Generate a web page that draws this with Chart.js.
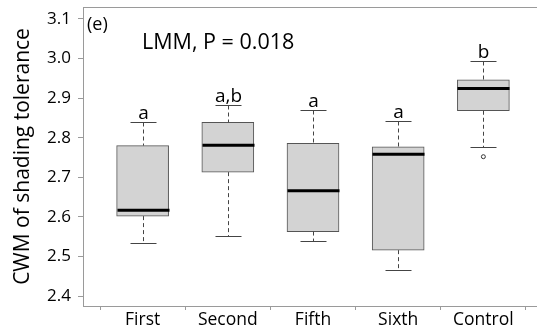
<!DOCTYPE html>
<html>
<head>
<meta charset="utf-8">
<script src="https://cdn.jsdelivr.net/npm/chart.js@4/dist/chart.umd.min.js"></script>
<style>
html, body { margin: 0; padding: 0; background: #fff; overflow: hidden; }
canvas { display: block; }
</style>
</head>
<body>
<canvas id="chart" width="548" height="328"></canvas>
<script>
// box plot data
const groups = ['First', 'Second', 'Fifth', 'Sixth', 'Control'];
const whiskerLo = [2.533, 2.551, 2.538, 2.466, 2.777];
const q1 = [2.602, 2.713, 2.563, 2.516, 2.868];
const medians = [2.617, 2.781, 2.666, 2.758, 2.924];
const q3 = [2.780, 2.839, 2.786, 2.777, 2.946];
const whiskerHi = [2.840, 2.883, 2.870, 2.841, 2.994];
const outlierGroup = [5];
const outlierValue = [2.752];
const letters = ['a', 'a,b', 'a', 'a', 'b'];
const yTicks = [2.4, 2.5, 2.6, 2.7, 2.8, 2.9, 3.0, 3.1];

const FONT = '"Open Sans", "Noto Sans", sans-serif';
const FRAME = '#9a9a9a';

const boxExtras = {
    id: 'boxExtras',
    afterDatasetsDraw(chart) {
        const ctx = chart.ctx;
        const xs = chart.scales.x, ys = chart.scales.y;
        const half = 26, cap = 13;
        ctx.save();
        groups.forEach((g, i) => {
            const cx = Math.round(xs.getPixelForValue(i + 1)) + 0.5;
            const yHi = Math.round(ys.getPixelForValue(whiskerHi[i])) + 0.5;
            const yQ3 = ys.getPixelForValue(q3[i]);
            const yQ1 = ys.getPixelForValue(q1[i]);
            const yLo = Math.round(ys.getPixelForValue(whiskerLo[i])) + 0.5;
            // dashed whiskers
            ctx.strokeStyle = '#444';
            ctx.lineWidth = 1;
            ctx.setLineDash([4, 3]);
            ctx.beginPath();
            ctx.moveTo(cx, yHi); ctx.lineTo(cx, yQ3);
            ctx.moveTo(cx, yQ1); ctx.lineTo(cx, yLo);
            ctx.stroke();
            // caps
            ctx.setLineDash([]);
            ctx.beginPath();
            ctx.moveTo(cx - cap, yHi); ctx.lineTo(cx + cap, yHi);
            ctx.moveTo(cx - cap, yLo); ctx.lineTo(cx + cap, yLo);
            ctx.stroke();
            // median
            const ym = ys.getPixelForValue(medians[i]);
            ctx.strokeStyle = '#000';
            ctx.lineWidth = 3;
            ctx.beginPath();
            ctx.moveTo(cx - half, ym); ctx.lineTo(cx + half, ym);
            ctx.stroke();
            // significance letters
            ctx.fillStyle = '#000';
            ctx.font = '19px ' + FONT;
            ctx.textAlign = 'center';
            ctx.textBaseline = 'alphabetic';
            ctx.fillText(letters[i], cx, yHi - 3.5);
        });
        ctx.restore();
    },
    afterDraw(chart) {
        const ctx = chart.ctx;
        const a = chart.chartArea;
        ctx.save();
        // top frame line
        ctx.strokeStyle = FRAME;
        ctx.lineWidth = 1;
        ctx.beginPath();
        ctx.moveTo(a.left, Math.round(a.top) + 0.5);
        ctx.lineTo(a.right, Math.round(a.top) + 0.5);
        ctx.stroke();
        // panel label and test result
        ctx.fillStyle = '#000';
        ctx.textBaseline = 'alphabetic';
        ctx.textAlign = 'left';
        ctx.font = '18px ' + FONT;
        ctx.fillText('(e)', 87, 30);
        ctx.font = '21.5px ' + FONT;
        ctx.fillText('LMM, P = 0.018', 142, 48.5);
        ctx.restore();
    }
};

new Chart(document.getElementById('chart'), {
    data: {
        datasets: [
            {
                type: 'bar',
                data: groups.map((g, i) => ({ x: i + 1, y: [q1[i], q3[i]] })),
                backgroundColor: '#d3d3d3',
                borderColor: '#555',
                borderWidth: 1,
                borderSkipped: false,
                barThickness: 52
            },
            {
                type: 'scatter',
                data: outlierGroup.map((g, i) => ({ x: g, y: outlierValue[i] })),
                pointStyle: 'circle',
                pointRadius: 2,
                borderColor: '#333',
                backgroundColor: '#fff',
                borderWidth: 1
            }
        ]
    },
    options: {
        responsive: false,
        animation: false,
        layout: { padding: { top: 7, right: 1, left: 0, bottom: 0 } },
        plugins: { legend: { display: false }, tooltip: { enabled: false } },
        scales: {
            x: {
                type: 'linear',
                offset: false,
                min: 0.3,
                max: 5.7,
                afterBuildTicks: s => { s.ticks = groups.map((g, i) => ({ value: i + 1 })); },
                afterFit: s => { s.height = 22; s.paddingLeft = 0; s.paddingRight = 0; },
                ticks: {
                    callback: (v, i) => groups[i],
                    color: '#000',
                    font: { family: FONT, size: 17.5 },
                    padding: 0,
                    maxRotation: 0
                },
                grid: { drawOnChartArea: false, drawTicks: true, tickLength: 4, color: FRAME },
                border: { display: true, color: FRAME }
            },
            y: {
                min: 2.375,
                max: 3.13,
                afterBuildTicks: s => { s.ticks = yTicks.map(v => ({ value: v })); },
                afterFit: s => { s.width = 83; s.paddingTop = 0; s.paddingBottom = 0; },
                ticks: {
                    callback: v => v.toFixed(1),
                    color: '#000',
                    font: { family: FONT, size: 17 },
                    padding: 7
                },
                grid: { drawOnChartArea: false, drawTicks: true, tickLength: 5, color: FRAME },
                border: { display: true, color: FRAME },
                title: {
                    display: true,
                    text: 'CWM of shading tolerance',
                    color: '#000',
                    font: { family: FONT, size: 21 },
                    padding: { top: 10, bottom: 0 }
                }
            }
        }
    },
    plugins: [boxExtras]
});
</script>
</body>
</html>
